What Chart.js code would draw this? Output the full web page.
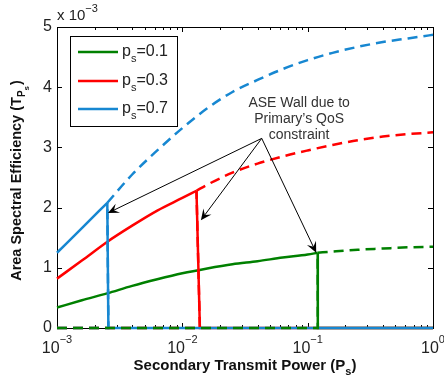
<!DOCTYPE html>
<html><head><meta charset="utf-8">
<script src="https://cdn.jsdelivr.net/npm/chart.js@4/dist/chart.umd.min.js"></script>
<style>html,body{margin:0;padding:0;background:#fff}#wrap{width:444px;height:381px}</style>
</head><body><div id="wrap"><canvas id="c" width="444" height="381"></canvas></div>
<script>
// ---- data (ASE in units of 1e-3) ----
const psValues = ["0.1", "0.3", "0.7"];
const seriesColors = ["#008000", "#ff0000", "#1787d1"];

// p_s = 0.1
const ps1SolidP   = [0.001, 0.00158, 0.00251, 0.00398, 0.00631, 0.01, 0.0158, 0.0251, 0.0398, 0.0631, 0.1, 0.1202];
const ps1SolidASE = [0.34, 0.46, 0.575, 0.70, 0.81, 0.91, 0.99, 1.06, 1.11, 1.17, 1.22, 1.25];
const ps1DashP    = [0.1202, 0.158, 0.251, 0.398, 0.631, 1];
const ps1DashASE  = [1.25, 1.27, 1.30, 1.32, 1.34, 1.35];
const ps1WallP    = 0.1205;

// p_s = 0.3
const ps3SolidP   = [0.001, 0.00158, 0.00251, 0.00398, 0.00631, 0.01, 0.01297];
const ps3SolidASE = [0.82, 1.12, 1.43, 1.70, 1.95, 2.16, 2.28];
const ps3DashP    = [0.01297, 0.0158, 0.0251, 0.0398, 0.0631, 0.1, 0.158, 0.251, 0.398, 0.631, 1];
const ps3DashASE  = [2.28, 2.38, 2.58, 2.73, 2.85, 2.95, 3.04, 3.12, 3.18, 3.22, 3.25];
const ps3WallP    = 0.0138;

// p_s = 0.7
const ps7SolidP   = [0.001, 0.00158, 0.00252];
const ps7SolidASE = [1.25, 1.66, 2.08];
const ps7DashP    = [0.00252, 0.00398, 0.00631, 0.01, 0.0158, 0.0251, 0.0398, 0.0631, 0.1, 0.158, 0.251, 0.398, 0.631, 1];
const ps7DashASE  = [2.08, 2.55, 2.95, 3.32, 3.65, 3.92, 4.12, 4.30, 4.45, 4.57, 4.67, 4.75, 4.81, 4.87];
const ps7WallP    = 0.00257;

const yTicks = [0, 1, 2, 3, 4, 5];
const xDecades = [-3, -2, -1, 0];
const xMinP = 0.001, xMaxP = 1;

// annotation
const annotText = ["ASE Wall due to", "Primary\u2019s QoS", "constraint"];
const annotTextAt = [0.0855, 3.76];
const arrowFrom = [0.0430, 3.15];
const arrowTipsP = [0.00255, 0.01406, 0.117];
const arrowTipsASE = [1.91, 1.79, 1.25];

function pts(xs, ys) { return xs.map((x, i) => ({x: x, y: ys[i]})); }
function last(a) { return a[a.length - 1]; }
// wall segment of the constrained (solid) curve: top of curve -> zero -> zero to the end
function wallSeries(xs, ys, wall) { return [{x: last(xs), y: last(ys)}, {x: wall, y: 0}, {x: xMaxP, y: 0}]; }
// zero part of the unconstrained (dashed) curve: zero -> jump up at the wall
function zeroSeries(xs, ys, wall) { return [{x: xMinP, y: 0}, {x: wall, y: 0}, {x: xs[0], y: ys[0]}]; }

const LW = 2.5, DASH = [10, 6];
function ds(data, color, dashed, order, smooth) {
  return {data: data, borderColor: color, backgroundColor: color, borderWidth: LW,
    borderDash: dashed ? DASH : [], showLine: true, pointRadius: 0,
    cubicInterpolationMode: smooth ? 'monotone' : 'default', tension: smooth ? 0.4 : 0,
    fill: false, order: order, clip: false, borderCapStyle: 'butt', borderJoinStyle: 'miter'};
}

const FONT = "'Liberation Sans', Arial, sans-serif";

const decorPlugin = {
  id: 'decor',
  beforeDatasetsDraw(chart) {
    const ctx = chart.ctx, a = chart.chartArea, xs = chart.scales.x, ys = chart.scales.y;
    ctx.save();
    ctx.strokeStyle = '#000'; ctx.lineWidth = 1;
    ctx.strokeRect(Math.round(a.left) + 0.5, Math.round(a.top) + 0.5, Math.round(a.right - a.left), Math.round(a.bottom - a.top));
    ctx.beginPath();
    for (let d = -3; d < 0; d++) {
      for (let m = 1; m <= 9; m++) {
        const v = m * Math.pow(10, d);
        const px = Math.round(xs.getPixelForValue(v)) + 0.5;
        const L = m === 1 ? 5 : 3;
        ctx.moveTo(px, a.bottom); ctx.lineTo(px, a.bottom - L);
        ctx.moveTo(px, a.top); ctx.lineTo(px, a.top + L);
      }
    }
    yTicks.forEach(t => {
      const py = Math.round(ys.getPixelForValue(t)) + 0.5;
      ctx.moveTo(a.left, py); ctx.lineTo(a.left + 5, py);
      ctx.moveTo(a.right, py); ctx.lineTo(a.right - 5, py);
    });
    ctx.stroke();
    ctx.restore();
  },
  afterDatasetsDraw(chart) {
    const ctx = chart.ctx, a = chart.chartArea, xs = chart.scales.x, ys = chart.scales.y;
    ctx.save();
    // x tick labels 10^d
    ctx.fillStyle = '#222';
    xDecades.forEach(d => {
      const px = xs.getPixelForValue(Math.pow(10, d));
      const base = '10', sup = d === 0 ? '0' : '\u2212' + Math.abs(d);
      ctx.font = '16px ' + FONT; const wb = ctx.measureText(base).width;
      ctx.font = '11px ' + FONT; const ws = ctx.measureText(sup).width;
      const x0 = px - (wb + ws) / 2;
      ctx.textAlign = 'left'; ctx.textBaseline = 'alphabetic';
      ctx.font = '16px ' + FONT; ctx.fillText(base, x0, 353);
      ctx.font = '11px ' + FONT; ctx.fillText(sup, x0 + wb, 343);
    });

    // multiplier
    ctx.font = '15px ' + FONT;
    ctx.fillText('x 10', a.left, 20);
    const wm = ctx.measureText('x 10').width;
    ctx.font = '11px ' + FONT;
    ctx.fillText('\u22123', a.left + wm, 12);

    // x label
    ctx.fillStyle = '#111';
    const xl = 'Secondary Transmit Power (P', xsub = 's', xend = ')';
    ctx.font = 'bold 15px ' + FONT; const w1 = ctx.measureText(xl).width;
    ctx.font = 'bold 11px ' + FONT; const w2 = ctx.measureText(xsub).width;
    ctx.font = 'bold 15px ' + FONT; const w3 = ctx.measureText(xend).width;
    let xx = (a.left + a.right) / 2 - (w1 + w2 + w3) / 2;
    ctx.font = 'bold 15px ' + FONT; ctx.fillText(xl, xx, 370);
    ctx.font = 'bold 11px ' + FONT; ctx.fillText(xsub, xx + w1, 375);
    ctx.font = 'bold 15px ' + FONT; ctx.fillText(xend, xx + w1 + w2, 370);

    // y label (rotated)
    ctx.save();
    ctx.translate(21, 181);
    ctx.rotate(-Math.PI / 2);
    const yl = 'Area Spectral Efficiency (T';
    ctx.font = 'bold 14.5px ' + FONT; const v1 = ctx.measureText(yl).width;
    ctx.font = 'bold 10px ' + FONT; const v2 = ctx.measureText('P').width;
    ctx.font = 'bold 8px ' + FONT; const v3 = ctx.measureText('s').width;
    ctx.font = 'bold 14.5px ' + FONT; const v4 = ctx.measureText(')').width;
    let yx = -(v1 + v2 + v3 + v4) / 2;
    ctx.font = 'bold 14.5px ' + FONT; ctx.fillText(yl, yx, 0);
    ctx.font = 'bold 10px ' + FONT; ctx.fillText('P', yx + v1, 4);
    ctx.font = 'bold 8px ' + FONT; ctx.fillText('s', yx + v1 + v2, 8);
    ctx.font = 'bold 14.5px ' + FONT; ctx.fillText(')', yx + v1 + v2 + v3 + 1, 0);
    ctx.restore();

    // legend
    const lx = 70.5, ly = 36.5, lw = 107, lh = 90;
    ctx.fillStyle = '#fff'; ctx.fillRect(lx, ly, lw, lh);
    ctx.strokeStyle = '#000'; ctx.lineWidth = 1; ctx.strokeRect(lx, ly, lw, lh);
    const rowY = [52, 81, 109];
    psValues.forEach((v, i) => {
      ctx.strokeStyle = seriesColors[i]; ctx.lineWidth = LW; ctx.setLineDash([]);
      ctx.beginPath(); ctx.moveTo(78, rowY[i]); ctx.lineTo(118, rowY[i]); ctx.stroke();
      ctx.fillStyle = '#222';
      ctx.font = '16px ' + FONT; ctx.fillText('p', 122, rowY[i] + 4);
      const pw = ctx.measureText('p').width;
      ctx.font = '11px ' + FONT; ctx.fillText('s', 122 + pw, rowY[i] + 10);
      const sw = ctx.measureText('s').width;
      ctx.font = '16px ' + FONT; ctx.fillText('=' + v, 122 + pw + sw, rowY[i] + 4);
    });

    // annotation text
    ctx.fillStyle = '#333'; ctx.font = '14px ' + FONT; ctx.textAlign = 'center';
    const tx = xs.getPixelForValue(annotTextAt[0]), ty = ys.getPixelForValue(annotTextAt[1]);
    annotText.forEach((t, i) => ctx.fillText(t, tx, ty + 5 + i * 16));
    // arrows
    const ox = xs.getPixelForValue(arrowFrom[0]), oy = ys.getPixelForValue(arrowFrom[1]);
    ctx.strokeStyle = '#000'; ctx.fillStyle = '#000'; ctx.lineWidth = 1;
    arrowTipsP.forEach((p, i) => {
      const tx2 = xs.getPixelForValue(p), ty2 = ys.getPixelForValue(arrowTipsASE[i]);
      const dx = tx2 - ox, dy = ty2 - oy, len = Math.hypot(dx, dy);
      const ux = dx / len, uy = dy / len, nx = -uy, ny = ux;
      const L = 11, W = 5;
      ctx.beginPath(); ctx.moveTo(ox, oy); ctx.lineTo(tx2 - ux * 6, ty2 - uy * 6); ctx.stroke();
      ctx.beginPath();
      ctx.moveTo(tx2, ty2);
      ctx.lineTo(tx2 - ux * L + nx * W, ty2 - uy * L + ny * W);
      ctx.lineTo(tx2 - ux * L * 0.6, ty2 - uy * L * 0.6);
      ctx.lineTo(tx2 - ux * L - nx * W, ty2 - uy * L - ny * W);
      ctx.closePath(); ctx.fill();
    });
    ctx.restore();
  }
};

const C = seriesColors;
new Chart(document.getElementById('c'), {
  type: 'scatter',
  data: {
    datasets: [
      ds(zeroSeries(ps1DashP, ps1DashASE, ps1WallP), C[0], true, 1, false),
      ds(pts(ps1DashP, ps1DashASE), C[0], true, 1, true),
      ds(zeroSeries(ps7DashP, ps7DashASE, ps7WallP), C[2], true, 2, false),
      ds(pts(ps7DashP, ps7DashASE), C[2], true, 2, true),
      ds(zeroSeries(ps3DashP, ps3DashASE, ps3WallP), C[1], true, 3, false),
      ds(pts(ps3DashP, ps3DashASE), C[1], true, 3, true),
      ds(wallSeries(ps7SolidP, ps7SolidASE, ps7WallP), C[2], false, 4, false),
      ds(pts(ps7SolidP, ps7SolidASE), C[2], false, 4, true),
      ds(wallSeries(ps3SolidP, ps3SolidASE, ps3WallP), C[1], false, 5, false),
      ds(pts(ps3SolidP, ps3SolidASE), C[1], false, 5, true),
      ds(wallSeries(ps1SolidP, ps1SolidASE, ps1WallP), C[0], false, 6, false),
      ds(pts(ps1SolidP, ps1SolidASE), C[0], false, 6, true)
    ]
  },
  options: {
    responsive: false, animation: false,
    layout: {padding: {left: 0, right: 11, top: 27, bottom: 0}},
    plugins: {legend: {display: false}, tooltip: {enabled: false}},
    scales: {
      x: {type: 'logarithmic', min: xMinP, max: xMaxP,
          ticks: {display: false}, grid: {display: false}, border: {display: false},
          afterFit(s) { s.height = 53; }},
      y: {type: 'linear', min: 0, max: 5,
          afterBuildTicks(s) { s.ticks = yTicks.map(v => ({value: v})); },
          ticks: {color: '#222', font: {family: FONT, size: 16}, padding: 5},
          grid: {display: false, drawTicks: false}, border: {display: false},
          afterFit(s) { s.width = 57; }}
    }
  },
  plugins: [decorPlugin]
});
</script></body></html>
